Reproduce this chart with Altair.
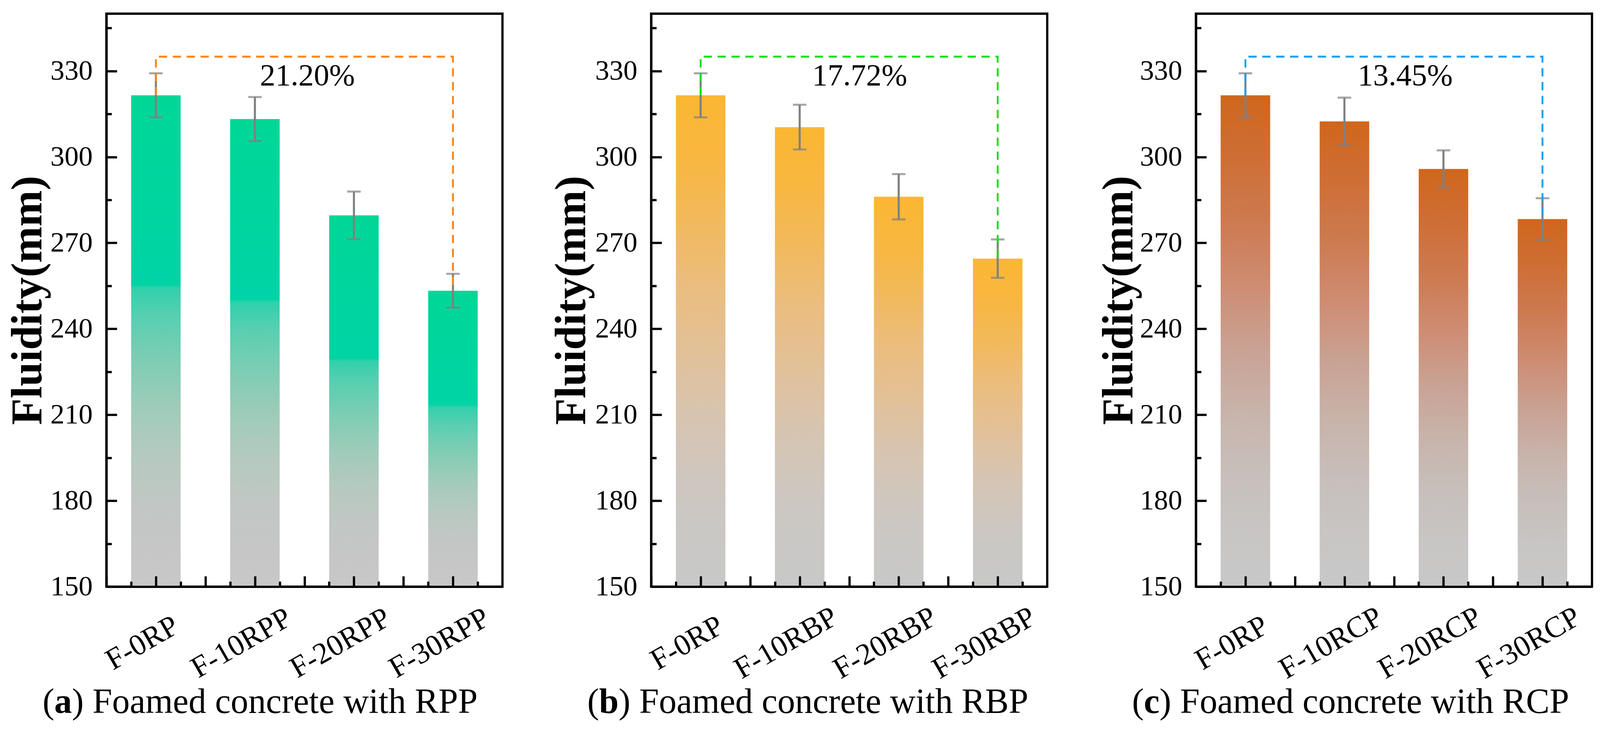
import altair as alt
import pandas as pd

# ---- data ---------------------------------------------------------------
CATS_RPP = ["F-0RP", "F-10RPP", "F-20RPP", "F-30RPP"]
CATS_RBP = ["F-0RP", "F-10RBP", "F-20RBP", "F-30RBP"]
CATS_RCP = ["F-0RP", "F-10RCP", "F-20RCP", "F-30RCP"]

FLUIDITY_RPP = [321.5, 313.2, 279.6, 253.3]
FLUIDITY_RBP = [321.5, 310.4, 286.1, 264.5]
FLUIDITY_RCP = [321.5, 312.4, 295.8, 278.3]

ERR_RPP = [7.7, 7.7, 8.3, 5.9]
ERR_RBP = [7.7, 7.8, 7.9, 6.7]
ERR_RCP = [7.7, 8.3, 6.5, 7.3]

DROP_LABELS = ["21.20%", "17.72%", "13.45%"]
PANEL_LETTERS = ["a", "b", "c"]
PANEL_CAPTIONS = [
    "Foamed concrete with RPP",
    "Foamed concrete with RBP",
    "Foamed concrete with RCP",
]

Y_MAJOR = [150, 180, 210, 240, 270, 300, 330]
Y_MINOR = [165, 195, 225, 255, 285, 315, 345]
Y_DOMAIN = [150, 350]
BRACKET_Y = 335
DROP_LABEL_Y = 325

# ---- styling ------------------------------------------------------------
FONT = "Liberation Serif"
W = 1055
H = 1526
STEP = W / 4
ERR_COLOR = "#808080"

GREEN_STOPS = [
    (0.0, "#00D796"), (0.385, "#00D3A6"), (0.392, "#30D1AC"), (0.45, "#58CFB0"),
    (0.545, "#80CDB4"), (0.64, "#A0CBBA"), (0.73, "#B5C9C0"), (0.825, "#C1C7C4"),
    (0.92, "#C6C6C6"), (1.0, "#C8C8C8"),
]
ORANGE_STOPS = [
    (0.0, "#FBB732"), (0.125, "#F8B740"), (0.255, "#F2B95C"), (0.385, "#EBBD7E"),
    (0.51, "#E3C096"), (0.64, "#D8C4AE"), (0.77, "#CFC6BE"), (0.9, "#C9C8C5"),
    (1.0, "#C8C8C8"),
]
RUST_STOPS = [
    (0.0, "#D0661C"), (0.125, "#CE6E35"), (0.255, "#CD7A50"), (0.385, "#CE8C72"),
    (0.51, "#C9A192"), (0.64, "#C8B3AA"), (0.77, "#C7BFBB"), (0.9, "#C8C6C5"),
    (1.0, "#C8C8C8"),
]
DASH_COLORS = ["#FF8517", "#1FDD1F", "#1E9FF0"]

CAPTION_SIZE = 94
CAPTION_X = -170
CAPTION_Y = 1862
BOLD_ADV = {"a": 0.5, "b": 0.556, "c": 0.444}
PAREN_ADV = 0.333


def _tick_axis_x(offset: float, size: int) -> alt.Axis:
    return alt.Axis(
        orient="top", offset=-H, labels=False, domain=False, ticks=True,
        tickSize=size, tickWidth=6, tickColor="black", tickOffset=offset,
        title=None, grid=False, zindex=2,
    )


def _tick_axis_y(values: list[int], size: int) -> alt.Axis:
    return alt.Axis(
        orient="right", offset=-W, values=values, labels=False, domain=False,
        ticks=True, tickSize=size, tickWidth=6, tickColor="black",
        title=None, grid=False, zindex=2,
    )


def build_panel(cats, vals, errs, stops, dash_color, drop_label, letter, caption,
                title_x, label_dx):
    df = pd.DataFrame({
        "cat": cats,
        "val": vals,
        "lo": [v - e for v, e in zip(vals, errs)],
        "hi": [v + e for v, e in zip(vals, errs)],
    })
    x_scale = alt.Scale(domain=cats, paddingInner=0.5, paddingOuter=0.25)
    y_scale = alt.Scale(domain=Y_DOMAIN, nice=False, zero=False)
    base = alt.Chart(df)

    gradient = alt.LinearGradient(
        gradient="linear",
        stops=[alt.GradientStop(color=c, offset=o) for o, c in stops],
        x1=0, x2=0, y1=0, y2=1,
    )

    bars = base.mark_bar(color=gradient).encode(
        x=alt.X(
            "cat:N", scale=x_scale, title=None,
            axis=alt.Axis(
                labelAngle=330, labelAlign="center", labelBaseline="middle",
                labelPadding=150, labelOffset=-36, labelFontSize=80,
                labelLimit=0, labelFont=FONT, labelColor="black",
                ticks=False, tickSize=0, domain=True, domainWidth=6,
                domainColor="black", zindex=2,
            ),
        ),
        y=alt.Y(
            "val:Q", scale=y_scale,
            axis=alt.Axis(
                values=Y_MAJOR, labelFontSize=75, labelFont=FONT,
                labelColor="black", labelPadding=37, ticks=False, tickSize=0,
                domain=True, domainWidth=6, domainColor="black", zindex=2,
                title="Fluidity(mm)", titleFont=FONT, titleFontSize=116,
                titleFontWeight="bold", titleColor="black", titleAngle=270,
                titleX=title_x, titleY=H / 2, titleAlign="center",
                titleBaseline="alphabetic",
            ),
        ),
        y2=alt.datum(150),
    )

    err_rule = base.mark_rule(color=ERR_COLOR, strokeWidth=5.5).encode(
        x=alt.X("cat:N", scale=x_scale, axis=None),
        y=alt.Y("lo:Q", scale=y_scale, axis=None),
        y2="hi:Q",
    )
    err_caps = (
        base.transform_fold(["lo", "hi"], as_=["end", "yv"])
        .mark_tick(color=ERR_COLOR, size=36, thickness=5.5)
        .encode(
            x=alt.X("cat:N", scale=x_scale, axis=None),
            y=alt.Y("yv:Q", scale=y_scale, axis=None),
        )
    )

    bracket_df = pd.DataFrame({
        "cat": [cats[0], cats[0], cats[-1], cats[-1]],
        "yv": [vals[0], BRACKET_Y, BRACKET_Y, vals[-1]],
        "o": [0, 1, 2, 3],
    })
    bracket = alt.Chart(bracket_df).mark_line(
        color=dash_color, strokeWidth=5, strokeDash=[22, 15]
    ).encode(
        x=alt.X("cat:N", scale=x_scale, axis=None),
        y=alt.Y("yv:Q", scale=y_scale, axis=None),
        order="o:Q",
    )

    drop_text = alt.Chart(
        pd.DataFrame({"t": [drop_label], "yv": [DROP_LABEL_Y]})
    ).mark_text(
        font=FONT, fontSize=82, color="black", align="center", baseline="alphabetic"
    ).encode(
        x=alt.value(W / 2 + label_dx),
        y=alt.Y("yv:Q", scale=y_scale, axis=None),
        text="t:N",
    )

    hidden = base.mark_point(opacity=0)
    ticks_a = hidden.encode(
        x=alt.X("cat:N", scale=x_scale, axis=_tick_axis_x(0, 28)),
        y=alt.Y("val:Q", scale=y_scale, axis=_tick_axis_y(Y_MAJOR, 28)),
    )
    ticks_b = hidden.encode(
        x=alt.X("cat:N", scale=x_scale, axis=_tick_axis_x(-STEP / 2, 28)),
        y=alt.Y("val:Q", scale=y_scale, axis=_tick_axis_y(Y_MINOR, 14)),
    )
    ticks_c = hidden.encode(
        x=alt.X("cat:N", scale=x_scale, axis=_tick_axis_x(-STEP / 4, 14)),
        y=alt.Y("val:Q", scale=y_scale, axis=None),
    )
    ticks_d = hidden.encode(
        x=alt.X("cat:N", scale=x_scale, axis=_tick_axis_x(STEP / 4, 14)),
        y=alt.Y("val:Q", scale=y_scale, axis=None),
    )

    # caption "(x) Foamed concrete with ..." with a bold panel letter
    x0 = CAPTION_X
    x1 = x0 + PAREN_ADV * CAPTION_SIZE
    x2 = x1 + BOLD_ADV[letter] * CAPTION_SIZE
    cap_parts = []
    for txt, xpos, weight in [("(", x0, "normal"), (letter, x1, "bold"),
                              (") " + caption, x2, "normal")]:
        cap_parts.append(
            alt.Chart(pd.DataFrame({"t": [txt]}))
            .mark_text(font=FONT, fontSize=CAPTION_SIZE, fontWeight=weight,
                       color="black", align="left", baseline="alphabetic")
            .encode(x=alt.value(xpos), y=alt.value(CAPTION_Y), text="t:N")
        )

    return (
        alt.layer(bars, err_rule, err_caps, bracket, drop_text,
                  ticks_a, ticks_b, ticks_c, ticks_d, *cap_parts)
        .properties(width=W, height=H)
        .resolve_axis(x="independent", y="independent")
    )


panel_a = build_panel(CATS_RPP, FLUIDITY_RPP, ERR_RPP, GREEN_STOPS, DASH_COLORS[0],
                      DROP_LABELS[0], PANEL_LETTERS[0], PANEL_CAPTIONS[0], -174, 8)
panel_b = build_panel(CATS_RBP, FLUIDITY_RBP, ERR_RBP, ORANGE_STOPS, DASH_COLORS[1],
                      DROP_LABELS[1], PANEL_LETTERS[1], PANEL_CAPTIONS[1], -176, 28)
panel_c = build_panel(CATS_RCP, FLUIDITY_RCP, ERR_RCP, RUST_STOPS, DASH_COLORS[2],
                      DROP_LABELS[2], PANEL_LETTERS[2], PANEL_CAPTIONS[2], -170, 30)

chart = (
    alt.hconcat(panel_a, panel_b, panel_c, spacing=396, bounds="flush")
    .configure_view(stroke="black", strokeWidth=6)
    .configure_axis(grid=False)
    .properties(padding={"left": 5, "top": -13, "right": 10, "bottom": 10},
                background="white")
)

chart.save("out.html", embed_options={"renderer": "svg", "actions": False})
